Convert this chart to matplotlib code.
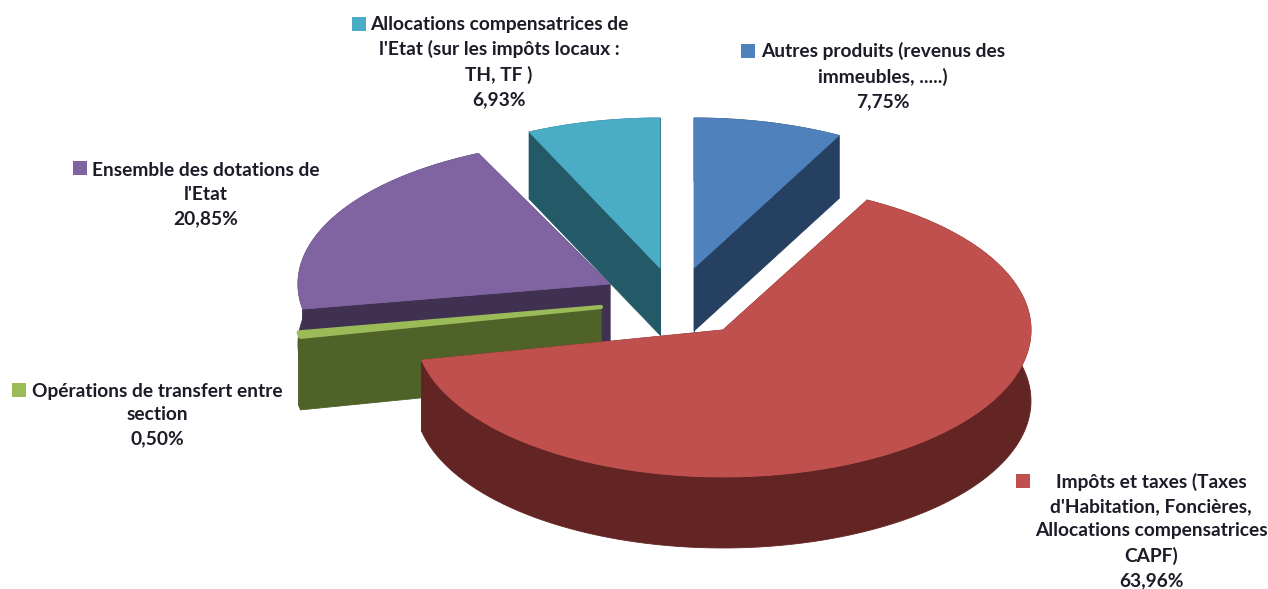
import numpy as np
import matplotlib
matplotlib.use('Agg')
import matplotlib.pyplot as plt
from matplotlib.patches import Polygon, Rectangle

# data, clockwise from the top of the pie
categories = ['Autres produits (revenus des\nimmeubles, .....)',
              "Impôts et taxes (Taxes\nd'Habitation, Foncières,\nAllocations compensatrices\nCAPF)",
              'Opérations de transfert entre\nsection',
              "Ensemble des dotations de\nl'Etat",
              "Allocations compensatrices de\nl'Etat (sur les impôts locaux :\nTH, TF )"]
values = [7.75, 63.96, 0.50, 20.85, 6.93]
value_labels = ['7,75%', '63,96%', '0,50%', '20,85%', '6,93%']

top_colors = ['#4F81BD', '#C0504D', '#9BBB59', '#8064A2', '#4BACC6']
side_colors = ['#264061', '#632523', '#4F6228', '#403152', '#245A68']

# apex of every exploded slice in pixels, radii of the ellipse, height of the side
apex = [(694, 268), (723, 330), (601, 307), (610, 284), (660, 268)]
rx, ry = [310, 308, 307, 312, 310], [150, 147, 146, 144, 150]
depth = [63, 71, 73, 60, 67]
top_lw = [0.6, 0.6, 3.0, 0.6, 0.6]

# legend key and label centre in pixels
key_xy = [(741, 44), (1016, 474), (12, 383), (73, 161), (352, 17)]
text_xy = [(883, 76), (1151, 531), (157, 415), (206, 195), (499, 62)]

fig = plt.figure(figsize=(12.68, 5.89), dpi=100)
ax = fig.add_axes([0, 0, 1, 1])
ax.set_xlim(0, 1268)
ax.set_ylim(589, 0)
ax.axis('off')

edges = np.cumsum([0] + values) / sum(values) * 2 * np.pi


def arc_points(i):
    t = np.linspace(edges[i], edges[i + 1], 120)
    return np.column_stack([apex[i][0] + rx[i] * np.sin(t), apex[i][1] - ry[i] * np.cos(t)])


def add_poly(pts, color, z, lw=0.6):
    ax.add_patch(Polygon(pts, closed=True, facecolor=color, edgecolor=color, lw=lw,
                         joinstyle='round', zorder=z))


# back slices first, the big red one last
draw_order = [4, 0, 3, 2, 1]
for z, i in enumerate(draw_order):
    arc = arc_points(i)
    down = np.array([0, depth[i]])
    c = np.array(apex[i], dtype=float)
    # cut faces
    for p in (arc[0], arc[-1]):
        add_poly([c, p, p + down, c + down], side_colors[i], z * 3 + 1)
    # outer wall
    add_poly(np.vstack([arc, (arc + down)[::-1]]), side_colors[i], z * 3 + 1)
    # top
    add_poly(np.vstack([c, arc]), top_colors[i], z * 3 + 2, top_lw[i])

for i in range(len(values)):
    ax.add_patch(Rectangle(key_xy[i], 14, 14, facecolor=top_colors[i], edgecolor='none', zorder=20))
    ax.text(text_xy[i][0], text_xy[i][1], categories[i] + '\n' + value_labels[i],
            ha='center', va='center', ma='center', family='Lato', weight='bold',
            fontsize=13.8, linespacing=1.5, color='#1C1C28', zorder=21)

fig.savefig('out.png', dpi=100)
